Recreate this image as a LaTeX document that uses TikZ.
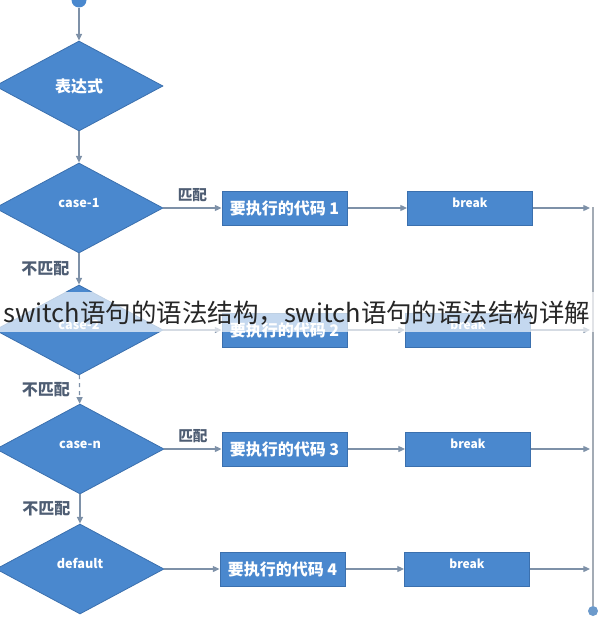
\documentclass[tikz,border=0pt]{standalone}
\usepackage{fontspec}
\usepackage{tikz}
\usetikzlibrary{positioning,shapes.geometric,arrows.meta,calc}
\newfontfamily\cjk{Noto Sans CJK SC}
\definecolor{flowblue}{HTML}{4A88CE}
\definecolor{flowedge}{HTML}{3B70AE}
\definecolor{arrowgray}{HTML}{7E91A8}
\definecolor{labelgray}{HTML}{4E5D73}
\definecolor{railgray}{HTML}{A3ABB5}
\definecolor{endblue}{HTML}{6C9ACB}
\tikzset{
  decision/.style={diamond,draw=flowedge,fill=flowblue,line width=0.6pt,
    minimum width=126pt,minimum height=67.5pt,inner sep=0pt,text=white,
    font=\cjk\bfseries\fontsize{12}{14}\selectfont},
  casetest/.style={decision,font=\cjk\bfseries\fontsize{9.5}{11}\selectfont,
    text height=5pt,text depth=6pt},
  codebox/.style={rectangle,draw=flowedge,fill=flowblue,line width=0.75pt,
    minimum width=93.75pt,minimum height=25.5pt,inner sep=0pt,text=white,
    font=\cjk\bfseries\fontsize{12}{14}\selectfont},
  breakbox/.style={codebox,font=\cjk\bfseries\fontsize{9}{11}\selectfont,
    text height=6pt,text depth=7pt},
  flow/.style={draw=arrowgray,line width=0.9pt,-{Triangle[length=5pt,width=4.5pt]}},
  matchlabel/.style={text=labelgray,font=\cjk\bfseries\fontsize{11}{13}\selectfont,inner sep=0.75pt},
  nomatch/.style={matchlabel,font=\cjk\bfseries\fontsize{12}{14}\selectfont},
}
\begin{document}
\begin{tikzpicture}[x=0.75pt,y=0.75pt,yscale=-1,xscale=1]
\useasboundingbox (0,0) rectangle (598,617);
%Shape: Circle
\node (start) [circle,fill=flowblue,inner sep=0pt,minimum size=11.25pt] at (79,0) {};
%Shape: Diamond
\node (expr) [decision] at (79,86) {表达式};
\node (case1) [casetest] at (79,208) {case-1};
\node (case2) [casetest] at (79,330) {case-2};
\node (casen) [casetest] at (80,449) {case-n};
\node (deflt) [casetest] at (80,569) {default};
%Shape: Rectangle
\node (code1) [codebox] at (284.5,208) {要执行的代码 1};
\node (code2) [codebox] at (284.5,330) {要执行的代码 2};
\node (code3) [codebox] at (284.5,449) {要执行的代码 3};
\node (code4) [codebox] at (282.5,569) {要执行的代码 4};
\node (brk1) [breakbox] at (470,208) {break};
\node (brk2) [breakbox] at (468,330) {break};
\node (brk3) [breakbox] at (468,449) {break};
\node (brk4) [breakbox] at (467,569) {break};
%Right rail
\coordinate (railtop) at (593,207);
\node (endc) [circle,fill=endblue,inner sep=0pt,minimum size=7.5pt] at (593,611) {};
\coordinate (r1) at (590,208);
\coordinate (r2) at (590,330);
\coordinate (r3) at (590,449);
\coordinate (r4) at (590,569);
\draw [railgray,line width=1.4pt] (railtop) -- (endc);
%Straight Lines
\draw [flow] (start) -- (expr);
\draw [flow] (expr) -- (case1);
\draw [flow] (case1) -- node [nomatch,left=6pt] (nm1) {不匹配} (case2);
\draw [flow,dashed] (case2) -- node [nomatch,left=6pt] (nm2) {不匹配} (casen);
\draw [flow] (casen) -- node [nomatch,left=6pt] (nm3) {不匹配} (deflt);
\draw [flow] (case1) -- node [matchlabel,above=3.5pt] (m1) {匹配} (code1);
\draw [flow] (case2) -- (code2);
\draw [flow] (casen) -- node [matchlabel,above=3.5pt] (m3) {匹配} (code3);
\draw [flow] (deflt) -- (code4);
\draw [flow] (code1) -- (brk1);
\draw [flow] (code2) -- (brk2);
\draw [flow] (code3) -- (brk3);
\draw [flow] (code4) -- (brk4);
\draw [flow] (brk1) -- (r1);
\draw [flow] (brk2) -- (r2);
\draw [flow] (brk3) -- (r3);
\draw [flow] (brk4) -- (r4);
%Watermark band
\fill [white,opacity=0.68] (0,292) rectangle (598,332);
% Text Node
\node (wmark) [anchor=base west,inner sep=0pt,text=black!85,font=\cjk\fontsize{19.1}{22}\selectfont] at (3,322) {switch语句的语法结构，switch语句的语法结构详解};
\end{tikzpicture}
\end{document}
